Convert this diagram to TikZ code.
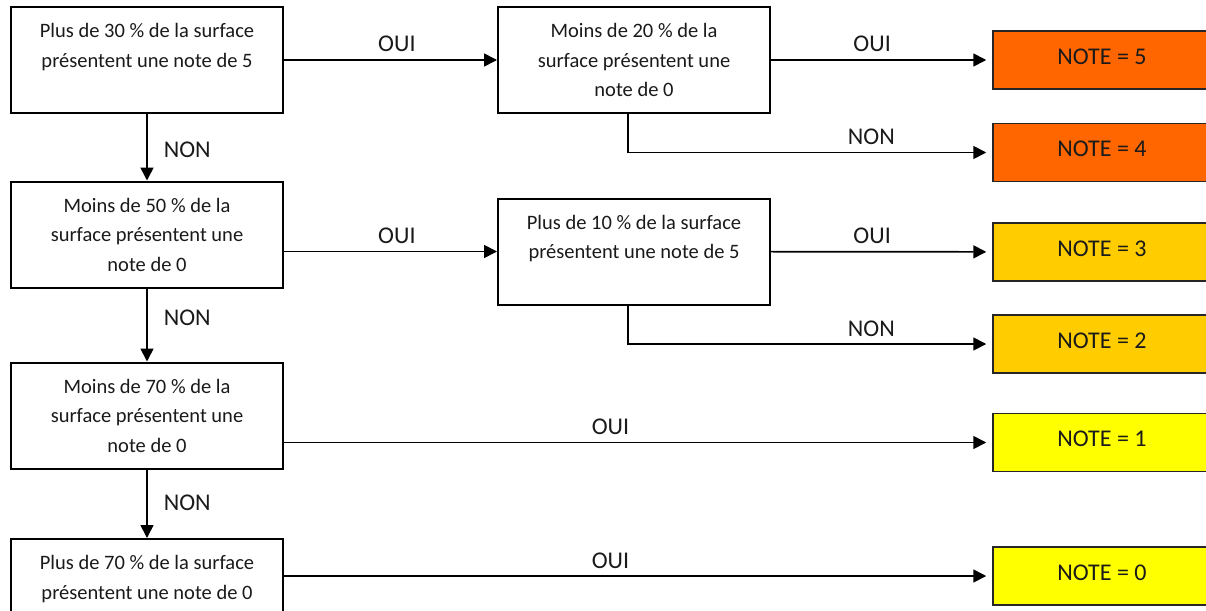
\documentclass[tikz,border=0pt]{standalone}
\usepackage{fontspec}
\setmainfont{Carlito}
\usetikzlibrary{arrows.meta}
\definecolor{orangeN}{HTML}{FF6600}
\definecolor{goldN}{HTML}{FFCC00}
\definecolor{yellowN}{HTML}{FFFF00}
\definecolor{txt}{HTML}{1A1A1A}
\begin{document}
\begin{tikzpicture}[x=1pt,y=-1pt,
 qbox/.style={draw, line width=2pt, minimum width=272pt, minimum height=106pt, inner sep=0pt},
 qtext/.style={align=center, text=txt, font=\fontsize{20.5}{29.5}\selectfont, inner sep=0pt},
 nbox/.style={draw=black!85, line width=1.5pt, minimum width=218pt, minimum height=58pt, inner sep=0pt, text=txt, font=\fontsize{24}{28}\selectfont, text depth=7pt},
 arr/.style={line width=1.7pt, -{Triangle[length=13pt,width=13pt]}},
 lbl/.style={anchor=base, inner sep=0pt, yshift=8pt, text=txt, font=\fontsize{24}{28}\selectfont},
 vlbl/.style={anchor=base west, inner sep=0pt, xshift=16pt, text=txt, font=\fontsize{24}{28}\selectfont}]
\clip (0,0) rectangle (1206,610);
\fill[white] (0,0) rectangle (1206,610);

% question boxes
\node[qbox] (A1) at (147,60) {};
\node[qbox] (A2) at (147,234.5) {};
\node[qbox] (A3) at (147,415.5) {};
\node[qbox] (A4) at (147,592) {};
\node[qbox] (B1) at (634,60) {};
\node[qbox] (B2) at (634,251.5) {};

\node[qtext] (A1t) at ([yshift=0pt]A1.center) {Plus de 30 \% de la surface\\présentent une note de 5\\\mbox{}};
\node[qtext] (A2t) at ([yshift=0pt]A2.center) {Moins de 50 \% de la\\surface présentent une\\note de 0};
\node[qtext] (A3t) at ([yshift=0pt]A3.center) {Moins de 70 \% de la\\surface présentent une\\note de 0};
\node[qtext] (A4t) at ([yshift=0pt]A4.center) {Plus de 70 \% de la surface\\présentent une note de 0\\\mbox{}};
\node[qtext] (B1t) at ([yshift=0pt]B1.center) {Moins de 20 \% de la\\surface présentent une\\note de 0};
\node[qtext] (B2t) at ([yshift=0pt]B2.center) {Plus de 10 \% de la surface\\présentent une note de 5\\\mbox{}};

% result boxes
\node[nbox, fill=orangeN] (C1) at (1102,60) {NOTE = 5};
\node[nbox, fill=orangeN] (C2) at (1102,152.5) {NOTE = 4};
\node[nbox, fill=goldN] (C3) at (1102,252) {NOTE = 3};
\node[nbox, fill=goldN] (C4) at (1102,344) {NOTE = 2};
\node[nbox, fill=yellowN] (C5) at (1102,442.5) {NOTE = 1};
\node[nbox, fill=yellowN] (C6) at (1102,576) {NOTE = 0};

% vertical NON arrows
\draw[arr] (A1) -- node[vlbl, pos=0.65] {NON} (A2);
\draw[arr] (A2) -- node[vlbl, pos=0.5] {NON} (A3);
\draw[arr] (A3) -- node[vlbl, pos=0.6] {NON} (A4);

% OUI arrows to second column
\draw[arr] (A1) -- node[lbl, pos=0.53] {OUI} (B1);
\draw[arr] (A2.east |- B2) -- node[lbl, pos=0.53] {OUI} (B2.west);

% arrows to results
\draw[arr, shorten >=6pt] (B1) -- node[lbl, pos=0.457] {OUI} (C1);
\draw[arr, shorten >=6pt] ([xshift=-6pt]B1.south) |- node[lbl, pos=0.834] {NON} (C2.west);
\draw[arr, shorten >=6pt] (B2) -- node[lbl, pos=0.457] {OUI} (C3);
\draw[arr, shorten >=6pt] ([xshift=-6pt]B2.south) |- node[lbl, pos=0.834] {NON} (C4.west);
\draw[arr, shorten >=6pt] (A3.east |- C5) -- node[lbl, pos=0.461] {OUI} (C5.west);
\draw[arr, shorten >=6pt] (A4.east |- C6) -- node[lbl, pos=0.461] {OUI} (C6.west);
\end{tikzpicture}
\end{document}
